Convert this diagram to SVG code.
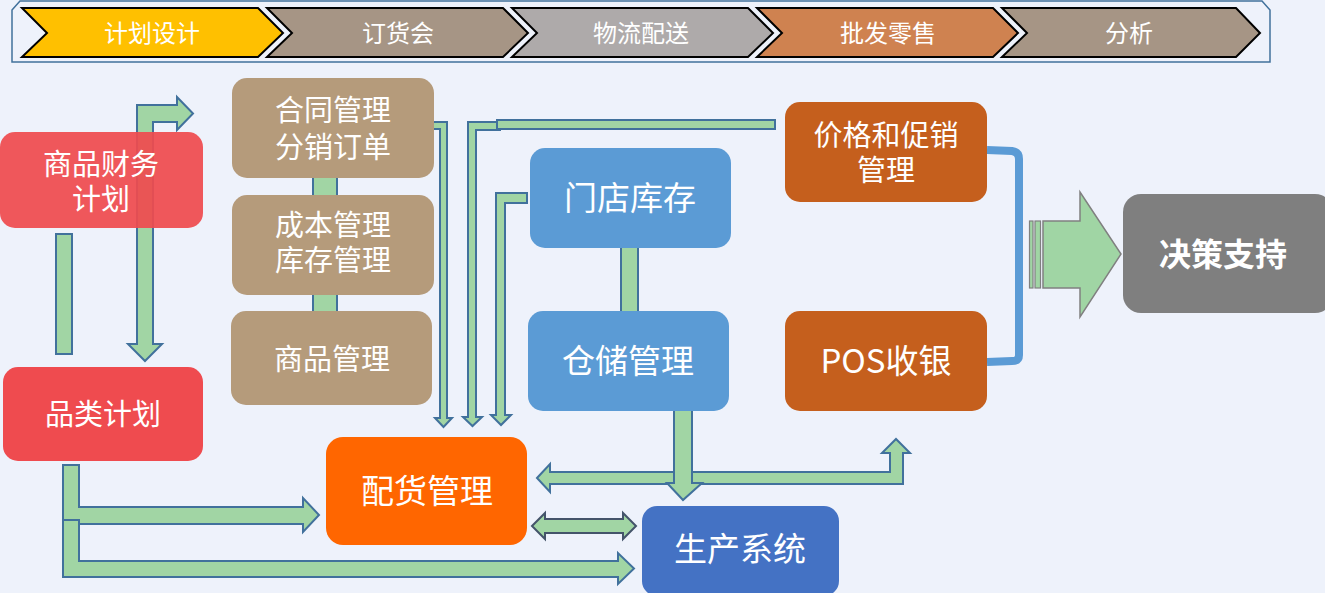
<svg xmlns="http://www.w3.org/2000/svg" width="1325" height="593" viewBox="0 0 1325 593">
<defs>
<style>
.bg{fill:#EEF2FB}
.chev{stroke:#000;stroke-width:2}
.bt{font-family:"Noto Sans CJK SC","Noto Sans",sans-serif;font-size:24px;fill:#fff;text-anchor:middle}
.t{font-family:"Noto Sans CJK SC","Noto Sans",sans-serif;font-size:29px;fill:#fff;text-anchor:middle}
.tl{font-family:"Noto Sans CJK SC","Noto Sans",sans-serif;font-size:33px;fill:#fff;text-anchor:middle}
.tb{font-family:"Noto Sans CJK SC","Noto Sans",sans-serif;font-size:32px;font-weight:bold;fill:#fff;text-anchor:middle}
.g{fill:#A1D5A4;stroke:#41719C;stroke-width:2;stroke-linejoin:miter}
.gd{fill:#A1D5A4;stroke:#44546A;stroke-width:2}
.red{fill:#EF4B4F}
.tan{fill:#B59B7B}
.lb{fill:#5B9BD5}
.br{fill:#C55F1D}
</style>
</defs>
<rect class="bg" x="0" y="0" width="1325" height="593"/>

<g id="banner">
<path d="M12,10 L20,1 L1262,1 L1270,10 L1270,62 L12,62 Z" fill="none" stroke="#41719C" stroke-width="1.5"/>
<path class="chev" fill="#FFC000" d="M22,8 L258,8 L283,33 L258,57 L22,57 L47,33 Z"/>
<path class="chev" fill="#A69585" d="M267,8 L503,8 L528,33 L503,57 L267,57 L292,33 Z"/>
<path class="chev" fill="#AEAAAA" d="M512,8 L748,8 L773,33 L748,57 L512,57 L537,33 Z"/>
<path class="chev" fill="#CF8250" d="M757,8 L993,8 L1018,33 L993,57 L757,57 L782,33 Z"/>
<path class="chev" fill="#A69585" d="M1002,8 L1236,8 L1260,33 L1236,57 L1002,57 L1027,33 Z"/>
<text class="bt" x="152" y="42">计划设计</text>
<text class="bt" x="398" y="42">订货会</text>
<text class="bt" x="641" y="42">物流配送</text>
<text class="bt" x="888" y="42">批发零售</text>
<text class="bt" x="1129" y="42">分析</text>
</g>

<g id="connectors">
<rect class="g" x="56" y="234" width="16" height="120"/>
<path class="g" d="M137,344 L128,344 L145,361 L162,344 L153,344 L153,122 L177,122 L177,130 L193,113.5 L177,97 L177,105 L137,105 Z"/>
<path class="g" d="M63,465 L79,465 L79,507 L303,507 L303,498 L319,515 L303,532 L303,524 L63,524 Z"/>
<path class="g" d="M63,520 L79,520 L79,561 L618,561 L618,553 L634,568.5 L618,584 L618,577 L63,577 Z"/>
<rect class="g" x="313" y="170" width="24" height="150"/>
<path class="g" d="M428,122 L447,122 L447,418 L452,418 L443.5,427 L435,418 L440,418 L440,129 L428,129 Z"/>
<path class="g" d="M500,122 L468,122 L468,417 L463,417 L472.5,426 L482,417 L476,417 L476,130 L500,130 Z"/>
<rect class="g" x="497" y="120" width="278" height="9"/>
<path class="g" d="M527,193 L496,193 L496,415 L491,415 L501,425 L511,415 L505,415 L505,203 L527,203 Z"/>
<rect class="g" x="621" y="240" width="17" height="80"/>
<path class="g" d="M537,478 L550,464 L550,472 L890,472 L890,453 L882,453 L896,439 L910,453 L903,453 L903,484 L550,484 L550,492 Z"/>
<path class="g" d="M674,405 L692,405 L692,483 L702,483 L683,500 L667,483 L674,483 Z"/>
<path class="gd" d="M532,526 L545,513 L545,519 L623,519 L623,513 L636,526 L623,539 L623,533 L545,533 L545,539 Z"/>
<path d="M987,150 L1012,151 Q1019,152 1019,159 L1019,355 Q1019,361 1012,361 L987,362" fill="none" stroke="#5B9BD5" stroke-width="8"/>
<rect x="1029.5" y="221" width="3.5" height="67" fill="#A0D5A4" stroke="#808080" stroke-width="1.2"/>
<rect x="1035" y="221" width="5.5" height="67" fill="#A0D5A4" stroke="#808080" stroke-width="1.2"/>
<path d="M1043,221 L1080,221 L1080,192 L1121,254 L1080,317 L1080,288 L1043,288 Z" fill="#A0D5A4" stroke="#808080" stroke-width="1.5"/>
</g>

<g id="n-finance">
<rect class="red" x="0" y="132" width="203" height="96" rx="15" fill-opacity="0.93"/>
<text class="t" x="101" y="175">商品财务</text>
<text class="t" x="101" y="210">计划</text>
</g>
<g id="n-category">
<rect class="red" x="3" y="367" width="200" height="94" rx="15"/>
<text class="t" x="103" y="425">品类计划</text>
</g>
<g id="n-contract">
<rect class="tan" x="232" y="78" width="202" height="100" rx="15"/>
<text class="t" x="333" y="121">合同管理</text>
<text class="t" x="333" y="158">分销订单</text>
</g>
<g id="n-cost">
<rect class="tan" x="232" y="195" width="202" height="100" rx="15"/>
<text class="t" x="333" y="236">成本管理</text>
<text class="t" x="333" y="271">库存管理</text>
</g>
<g id="n-goods">
<rect class="tan" x="231" y="311" width="201" height="94" rx="15"/>
<text class="t" x="332" y="370">商品管理</text>
</g>
<g id="n-store">
<rect class="lb" x="530" y="148" width="201" height="100" rx="15"/>
<text class="tl" x="630" y="210">门店库存</text>
</g>
<g id="n-warehouse">
<rect class="lb" x="528" y="311" width="201" height="100" rx="15"/>
<text class="tl" x="628" y="373">仓储管理</text>
</g>
<g id="n-price">
<rect class="br" x="785" y="102" width="202" height="100" rx="15"/>
<text class="t" x="886" y="146">价格和促销</text>
<text class="t" x="886" y="181">管理</text>
</g>
<g id="n-pos">
<rect class="br" x="785" y="311" width="202" height="100" rx="15"/>
<text class="tl" x="886" y="373">POS收银</text>
</g>
<g id="n-decision">
<rect fill="#7F7F7F" x="1123" y="194" width="210" height="119" rx="18"/>
<text class="tb" x="1223" y="266">决策支持</text>
</g>
<g id="n-distribution">
<rect fill="#FF6600" x="326" y="437" width="201" height="108" rx="17"/>
<text class="tl" x="427" y="503">配货管理</text>
</g>
<g id="n-production">
<rect fill="#4472C4" x="642" y="506" width="197" height="90" rx="15"/>
<text class="tl" x="740" y="561">生产系统</text>
</g>
</svg>
